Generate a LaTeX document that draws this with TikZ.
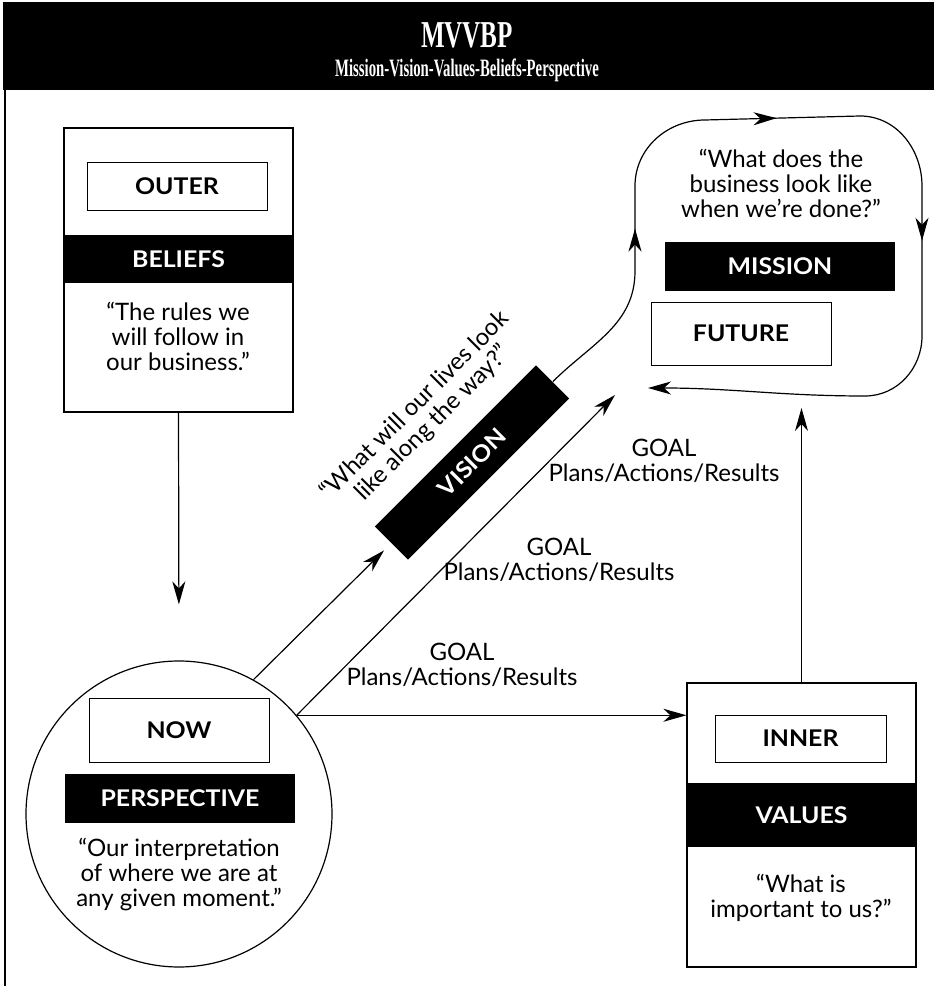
\documentclass[tikz,border=0pt]{standalone}
\usepackage{fontspec}
\usetikzlibrary{arrows.meta,calc,decorations.markings,positioning}
\newfontfamily\mvsans{Lato}
\newfontfamily\mvlabel[FakeStretch=1.08]{Lato}
\newfontfamily\mvhead[FakeStretch=0.66]{Liberation Serif}
\newfontfamily\mvsub[FakeStretch=0.59]{Liberation Serif}
\tikzset{
    mv diagram/.style = {x=0.5pt, y=0.5pt,
                         >={Stealth[length=11.5pt,width=6.5pt,inset=3.5pt]}},
    line/.style       = {semithick},
    flow/.style       = {line, ->},
    panel/.style      = {draw, semithick, fill=white,
                         minimum width=114.5pt, minimum height=142pt},
    tag/.style        = {draw, thin, fill=white, minimum width=90pt,
                         font=\mvlabel\bfseries\fontsize{11.5}{13}\selectfont},
    band/.style       = {fill=black, text=white, inner sep=0pt,
                         minimum width=114.5pt,
                         font=\mvlabel\bfseries\fontsize{11.5}{13}\selectfont},
    quote/.style      = {align=center, inner sep=0pt,
                         font=\mvsans\fontsize{12}{12.5}\selectfont},
    goal/.style       = {quote},
    head title/.style = {text=white, font=\mvhead\bfseries\fontsize{19}{21}\selectfont},
    head sub/.style   = {text=white, font=\mvsub\bfseries\fontsize{12.5}{14}\selectfont},
    loop marks/.style = {postaction=decorate,
                         decoration={markings,
                            mark=at position 0.176 with {\arrow{>}},
                            mark=at position 0.386 with {\arrow{>}},
                            mark=at position 0.616 with {\arrow{>}}}}
}

\begin{document}
\begin{tikzpicture}[mv diagram]
\useasboundingbox (0,0) rectangle (934,986);

% ================= Title bar =================
\fill (3,896) rectangle (934,984);
\node[head title] (title) at (467,951) {MVVBP};
\node[head sub] (subtitle) at (467,916) {Mission-Vision-Values-Beliefs-Perspective};
\draw[line] (5,896) -- (5,0);

% ================= Beliefs (outer) =================
\node[panel] (beliefs) at (178.5,716) {};
\node[tag, minimum height=24pt] (outer) at (177,800) {OUTER};
\node[band, minimum height=24pt] (beliefs band) at (178.5,727) {BELIEFS};
\node[quote] (rules) at (178,650) {“The rules we\\will follow in\\our business.”};

% ================= Perspective (now) =================
\node[circle, draw, semithick, fill=white, minimum size=153pt,
      inner sep=0pt] (now) at (179,172) {};
\node[tag, minimum height=32pt] (now tag) at (179,256) {NOW};
\node[band, minimum width=115pt, minimum height=24.5pt] (perspective) at (180,187.5) {PERSPECTIVE};
\node[quote] (interpretation) at (179,111) {“Our interpretation\\of where we are at\\any given moment.”};

% ================= Values (inner) =================
\node[panel] (values) at (801.5,161) {};
\node[tag, minimum width=85.5pt, minimum height=23.5pt] (inner) at (800.5,247.5) {INNER};
\node[band, minimum height=32pt] (values band) at (801.5,171) {VALUES};
\node[quote] (important) at (801,88) {“What is\\important to us?”};

% ================= Mission (future) =================
\node[quote] (done) at (781,803) {“What does the\\business look like\\when we’re done?”};
\node[band, minimum width=115pt, minimum height=24.5pt] (mission) at (780,719.5) {MISSION};
\node[tag, minimum height=31.5pt] (future) at (741,652.5) {FUTURE};

% ================= Vision =================
\node[band, rotate=45, minimum width=114pt, minimum height=23.5pt] (vision) at (472,523.5) {VISION};
\node[quote, rotate=45, anchor=south, inner sep=3pt] (lives)
     at ($(vision.north)!-7pt!(vision.center)$)
     {“What will our lives look\\like along the way?”};

% ================= Goals =================
\node[goal] (goal far)  at (664,525) {GOAL\\Plans/Actions/Results};
\node[goal] (goal mid)  at (559,426) {GOAL\\Plans/Actions/Results};
\node[goal] (goal near) at (462,321) {GOAL\\Plans/Actions/Results};

\coordinate (goal tip)   at (615,591);
\coordinate (mission in) at (801.5,578);

% ================= Connectors =================
\draw[flow, shorten >=28pt] (beliefs.south) -- (now.north);
\draw[flow, shorten >=5pt] (now.61) -- (vision.west);
\draw[flow] (now.40) -- (goal tip);
\draw[flow] (now.40) -- (now.40 -| values.west);
\draw[flow] (values.north) -- (mission in);

% Mission loop, leaving the vision bar and coming back round.
\draw[flow, loop marks] (vision.east) to[out=45,in=-90] (635,715) -- (635,800)
    to[out=90,in=180] (705,866) -- (860,870) to[out=0,in=90] (922,800)
    -- (922,650) to[out=-90,in=0] (865,590) to[out=180,in=0] (648,598);

\end{tikzpicture}
\end{document}
